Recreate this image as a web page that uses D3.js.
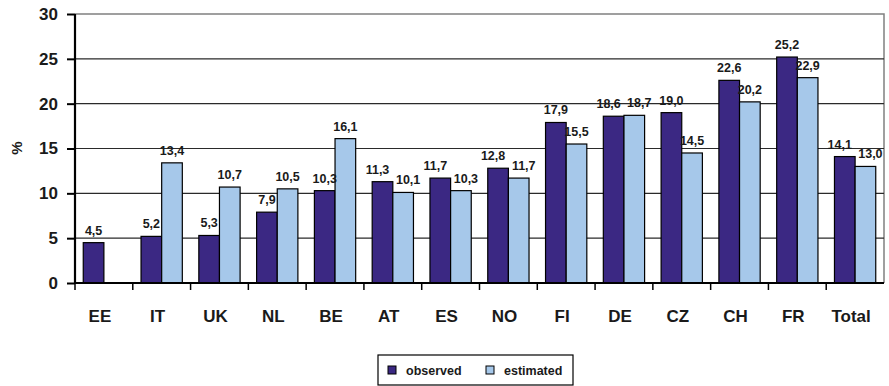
<!DOCTYPE html>
<html>
<head>
<meta charset="utf-8">
<script src="https://cdn.jsdelivr.net/npm/d3@7"></script>
<style>
  html, body { margin: 0; padding: 0; background: #fff; }
  svg { display: block; font-family: "Liberation Sans", Arial, sans-serif; font-weight: bold; }
</style>
</head>
<body>
<svg id="chart" width="889" height="386"></svg>
<script>
// Categories and series
const categories = ["EE", "IT", "UK", "NL", "BE", "AT", "ES", "NO", "FI", "DE", "CZ", "CH", "FR", "Total"];
const observed  = [4.5, 5.2, 5.3, 7.9, 10.3, 11.3, 11.7, 12.8, 17.9, 18.6, 19.0, 22.6, 25.2, 14.1];
const estimated = [null, 13.4, 10.7, 10.5, 16.1, 10.1, 10.3, 11.7, 15.5, 18.7, 14.5, 20.2, 22.9, 13.0];
const yTicks = [0, 5, 10, 15, 20, 25, 30];
const seriesNames = ["observed", "estimated"];
const seriesColors = ["#3b2883", "#a6c8ea"];

const svg = d3.select("#chart");
const margin = { left: 75, right: 5, top: 14, bottom: 103 };
const W = 889, H = 386;
const x0 = margin.left, x1 = W - margin.right;
const yTop = margin.top, yBot = H - margin.bottom;

const x = d3.scaleBand().domain(categories).range([x0, x1]).paddingInner(0).paddingOuter(0);
const sub = d3.scaleBand().domain(seriesNames).range([0, x.bandwidth()]).paddingInner(0).paddingOuter(0.4);
const y = d3.scaleLinear().domain([0, 30]).range([yBot, yTop]);

// Plot frame (top and right edges)
svg.append("path")
  .attr("d", `M${x0},${y(30)}H${x1}V${yBot}`)
  .attr("fill", "none").attr("stroke", "#808080").attr("stroke-width", 1.5);

// Horizontal gridlines
svg.append("g").selectAll("line")
  .data(yTicks.filter(t => t > 0 && t < 30))
  .join("line")
  .attr("x1", x0).attr("x2", x1)
  .attr("y1", d => y(d)).attr("y2", d => y(d))
  .attr("stroke", "#2a2a2a").attr("stroke-width", 1.2);

// Bars
const rows = categories.map((c, i) => ({ c, vals: [observed[i], estimated[i]] }));
const groups = svg.append("g").selectAll("g").data(rows).join("g")
  .attr("transform", d => `translate(${x(d.c)},0)`);

const entries = d => d.vals.map((v, j) => ({ v, s: seriesNames[j], j, other: d.vals[1 - j] }))
  .filter(e => e.v != null);

groups.selectAll("rect")
  .data(entries)
  .join("rect")
  .attr("x", e => sub(e.s))
  .attr("width", sub.bandwidth())
  .attr("y", e => y(e.v))
  .attr("height", e => y(0) - y(e.v))
  .attr("fill", e => seriesColors[e.j])
  .attr("stroke", "#000").attr("stroke-width", 1.2);

// Value labels; labels of nearly equal bars in a pair are nudged apart
const fmt = v => d3.format(".1f")(v).replace(".", ",");
groups.selectAll("text")
  .data(entries)
  .join("text")
  .attr("x", e => {
    const cx = sub(e.s) + sub.bandwidth() / 2;
    const close = e.other != null && Math.abs(e.other - e.v) < 1.5;
    return close ? cx + (e.j === 0 ? -5 : 5) : cx;
  })
  .attr("y", e => y(e.v) - 8)
  .attr("text-anchor", "middle")
  .attr("font-size", 12.5)
  .attr("fill", "#1a1a1a")
  .text(e => fmt(e.v));

// Y axis
const yAxis = svg.append("g").attr("transform", `translate(${x0},0)`)
  .call(d3.axisLeft(y).tickValues(yTicks).tickSize(8).tickPadding(9).tickFormat(d3.format("d")));
yAxis.select(".domain").attr("stroke", "#000").attr("stroke-width", 2.2).attr("d", `M0,${yTop}V${yBot}`);
yAxis.selectAll(".tick line").attr("stroke", "#000").attr("stroke-width", 2);
yAxis.selectAll(".tick text").attr("font-size", 17).attr("font-weight", "bold")
  .attr("font-family", "'Liberation Sans', Arial, sans-serif").attr("fill", "#1a1a1a");

// X axis with ticks at category boundaries
const xg = svg.append("g");
xg.append("line").attr("x1", x0).attr("x2", x1).attr("y1", yBot).attr("y2", yBot)
  .attr("stroke", "#000").attr("stroke-width", 2.2);
xg.selectAll("line.tk").data(categories).join("line").attr("class", "tk")
  .attr("x1", d => x(d)).attr("x2", d => x(d))
  .attr("y1", yBot).attr("y2", yBot + 7)
  .attr("stroke", "#000").attr("stroke-width", 1.5);
xg.selectAll("text").data(categories).join("text")
  .attr("x", d => x(d) + x.bandwidth() / 2 - 4)
  .attr("y", 322)
  .attr("text-anchor", "middle")
  .attr("font-size", 17)
  .attr("fill", "#1a1a1a")
  .text(d => d);

// Y axis title
svg.append("text")
  .attr("transform", "translate(22,148) rotate(-90)")
  .attr("text-anchor", "middle")
  .attr("font-size", 15)
  .attr("fill", "#1a1a1a")
  .text("%");

// Legend
const lg = svg.append("g").attr("transform", "translate(378,355)");
lg.append("rect").attr("width", 195).attr("height", 30)
  .attr("fill", "#fff").attr("stroke", "#000").attr("stroke-width", 1.2);
const items = [{ n: seriesNames[0], c: seriesColors[0], sx: 10, tx: 28 },
               { n: seriesNames[1], c: seriesColors[1], sx: 108, tx: 126 }];
items.forEach(it => {
  lg.append("rect").attr("x", it.sx).attr("y", 11).attr("width", 8).attr("height", 8)
    .attr("fill", it.c).attr("stroke", "#000").attr("stroke-width", 1);
  lg.append("text").attr("x", it.tx).attr("y", 20).attr("font-size", 12.5).attr("fill", "#1a1a1a").text(it.n);
});
</script>
</body>
</html>
